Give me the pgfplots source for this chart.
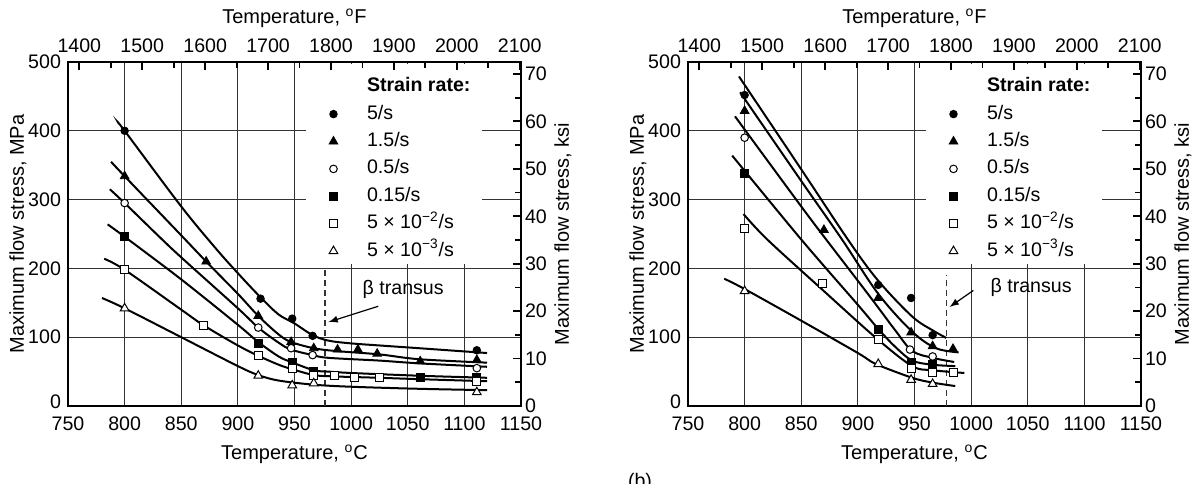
\documentclass[border=0pt]{standalone}
\usepackage{pgfplots}
\pgfplotsset{compat=1.18}
\usepackage{fontspec}
\setmainfont{Liberation Sans}

\newcommand{\lblfont}{\fontsize{9.8}{11}\selectfont}

\pgfplotsset{
  % Celsius / MPa frame with the grid
  flowaxis/.style={
    scale only axis, width=226.5pt, height=172pt,
    xmin=750, xmax=1150, ymin=0, ymax=500,
    xtick={750,800,...,1150}, ytick={0,100,...,500},
    yticklabels={\raisebox{4pt}{0},100,200,300,400,\raisebox{-4pt}{500}},
    major tick length=0pt,
    grid=major, major grid style={black!80, line width=0.5pt},
    axis line style={line width=1.1pt},
    /pgf/number format/assume math mode=true,
    /pgf/number format/1000 sep={},
    tick label style={font=\lblfont},
    xticklabel style={yshift=-2pt},
    label style={font=\lblfont},
    xlabel={Temperature, \textsuperscript{o}C},
    ylabel={Maximum flow stress, MPa},
    every axis x label/.style={at={(rel axis cs:0.5,0)}, yshift=-24pt, anchor=center},
    every axis y label/.style={at={(rel axis cs:0,0.5)}, xshift=-25pt, rotate=90, anchor=center},
    legend cell align=left,
    legend style={draw=none, fill=white, inner sep=0pt, anchor=north west,
      font=\lblfont,
      nodes={text height=7.2pt, text depth=2.2pt, inner sep=1.6pt},
      row sep=1.1pt,
      /tikz/every odd column/.append style={column sep=13pt}},
  },
  % Fahrenheit / ksi scales on top and right
  altaxis/.style={
    scale only axis, width=226.5pt, height=172pt,
    xmin=1382, xmax=2102, ymin=0, ymax=72.519,
    axis x line*=top, axis y line*=right,
    axis line style={line width=1.1pt, -},
    xtick={1400,1500,...,2100}, minor xtick={1450,1550,...,2050},
    ytick={0,10,...,70}, minor ytick={5,15,...,65},
    tick align=inside, major tick length=4pt, minor tick length=3pt,
    tick style={line width=0.9pt, black},
    /pgf/number format/assume math mode=true,
    /pgf/number format/1000 sep={},
    tick label style={font=\lblfont},
    xticklabel style={yshift=1pt},
    yticklabel style={xshift=-1.5pt},
    label style={font=\lblfont},
    xlabel={Temperature, \textsuperscript{o}F},
    ylabel={Maximum flow stress, ksi},
    every axis x label/.style={at={(rel axis cs:0.5,1)}, yshift=22pt, anchor=center},
    every axis y label/.style={at={(rel axis cs:1,0.5)}, xshift=21pt, rotate=90, anchor=center},
  },
  curve/.style={black, line width=1pt, smooth, tension=0.55, forget plot},
  mA/.style={black, only marks, mark=*, mark size=1.9pt},
  mB/.style={black, only marks, mark=triangle*, mark size=2.5pt},
  mC/.style={black, only marks, mark=*, mark size=1.9pt, mark options={fill=white, line width=0.5pt}},
  mD/.style={black, only marks, mark=square*, mark size=2pt},
  mE/.style={black, only marks, mark=square*, mark size=2pt, mark options={fill=white, line width=0.5pt}},
  mF/.style={black, only marks, mark=triangle*, mark size=2.5pt, mark options={fill=white, line width=0.5pt}},
}

\newcommand{\legendrows}{%
  \addlegendimage{empty legend}\addlegendentry{\textbf{Strain rate:}}
  \addlegendimage{mA}\addlegendentry{5/s}
  \addlegendimage{mB}\addlegendentry{1.5/s}
  \addlegendimage{mC}\addlegendentry{0.5/s}
  \addlegendimage{mD}\addlegendentry{0.15/s}
  \addlegendimage{mE}\addlegendentry{5 × 10\textsuperscript{−2}/s}
  \addlegendimage{mF}\addlegendentry{5 × 10\textsuperscript{−3}/s}
}

\begin{document}
\begin{tikzpicture}
\useasboundingbox (0,0) rectangle (597pt,241.5pt);

% ---------------- left panel ----------------
\begin{axis}[flowaxis, at={(34pt,38.5pt)}, anchor=south west,
  legend style={at={(axis cs:969,483)}}]
  \fill[white] (axis cs:960,218) rectangle (axis cs:1116,497);
  \draw[black!80, line width=0.6pt, dash pattern=on 3pt off 2pt] (axis cs:977,0) -- (axis cs:977,200);
  \node[font=\lblfont, anchor=west] at (axis cs:1004,170) {β transus};
  \draw[-latex, line width=0.6pt] (axis cs:1024,145) -- (axis cs:980,122);
  % fitted curves
  \addplot[curve] coordinates {(795,410) (800,400) (850,290) (880,230) (900,193) (920,158) (936,133) (950,120) (966,103) (980,95) (1000,91) (1025,88) (1060,84) (1120,77)};
  \addplot[curve] coordinates {(788,355) (800,334) (850,248) (872,210) (900,163) (918,131) (936,104) (947,93) (967,84) (986,80) (1025,75) (1060,68) (1120,63)};
  \addplot[curve] coordinates {(787,315) (800,295) (830,247) (850,216) (900,142) (918,114) (936,92) (947,82) (966,74) (980,70) (1025,66) (1060,62) (1120,57)};
  \addplot[curve] coordinates {(785,264) (800,246) (850,184) (900,118) (918,93) (936,72) (947,64) (967,52) (980,50) (1000,48) (1060,44) (1120,41)};
  \addplot[curve] coordinates {(782,214) (800,198) (850,140) (870,117) (900,88) (918,73) (936,60) (947,54) (967,45) (985,43) (1025,41) (1060,39) (1120,36)};
  \addplot[curve] coordinates {(780,157) (800,142) (850,100) (900,58) (918,45) (936,37) (967,31) (1000,28) (1060,25) (1120,23)};
  % measured points
  \addplot[mA, forget plot] coordinates {(800,400) (920,156) (948,127) (966,102) (1111,81)};
  \addplot[mB, forget plot] coordinates {(800,334) (872,210) (918,131) (947,93) (967,84) (988,82) (1006,82) (1023,76) (1061,65) (1111,67)};
  \addplot[mC, forget plot] coordinates {(800,295) (918,114) (947,84) (966,74) (1111,55)};
  \addplot[mD, forget plot] coordinates {(800,246) (918,91) (948,64) (967,51) (1061,41) (1111,42)};
  \addplot[mE, forget plot] coordinates {(800,198) (870,117) (918,73) (948,54) (967,45) (985,44) (1003,41) (1025,41) (1111,35)};
  \addplot[mF, forget plot] coordinates {(800,142) (918,44) (948,30) (967,33) (1111,20)};
  \legendrows
\end{axis}
\begin{axis}[altaxis, at={(34pt,38.5pt)}, anchor=south west]
\end{axis}

% ---------------- right panel ----------------
\begin{axis}[flowaxis, at={(344pt,38.5pt)}, anchor=south west,
  legend style={at={(axis cs:969,483)}}]
  \fill[white] (axis cs:960,218) rectangle (axis cs:1116,497);
  \draw[black!80, line width=0.6pt, dash pattern=on 3pt off 2pt] (axis cs:978.5,0) -- (axis cs:978.5,190);
  \node[font=\lblfont, anchor=west] at (axis cs:1011,172) {β transus};
  \draw[-latex, line width=0.6pt] (axis cs:1002,168) -- (axis cs:981,144);
  % fitted curves
  \addplot[curve] coordinates {(795,479) (850,344) (892,240) (918,182) (948,130) (966,110) (978,99)};
  \addplot[curve] coordinates {(796,456) (850,327) (886,242) (918,163) (948,108) (969,84) (989,78)};
  \addplot[curve] coordinates {(791.5,421) (850,290) (872,242) (900,182) (918,143) (933,110) (948,80) (966,70) (985,64)};
  \addplot[curve] coordinates {(789,364) (850,242) (900,147) (918,112) (933,86) (948,66) (966,60) (986,58)};
  \addplot[curve] coordinates {(799,279) (820,242) (868,170) (916,99) (948,58) (966,52) (994,48)};
  \addplot[curve] coordinates {(782,185) (800,170) (850,124) (900,77) (916,61) (948,41) (966,34) (986,29)};
  % measured points
  \addplot[mA, forget plot] coordinates {(800,452) (918,176) (947,157) (966,103)};
  \addplot[mB, forget plot] coordinates {(800,429) (870,256) (918,157) (947,107) (966,87) (984,83)};
  \addplot[mC, forget plot] coordinates {(800,390) (946,82) (966,72)};
  \addplot[mD, forget plot] coordinates {(800,338) (918,112) (947,64) (966,60)};
  \addplot[mE, forget plot] coordinates {(800,258) (869,178) (918,96) (947,54) (966,48) (984,48)};
  \addplot[mF, forget plot] coordinates {(800,167) (918,61) (947,38) (966,32)};
  \legendrows
\end{axis}
\begin{axis}[altaxis, at={(344pt,38.5pt)}, anchor=south west]
\end{axis}

\node[font=\lblfont, anchor=north, inner sep=0pt] at (320pt,5pt) {(b)};
\end{tikzpicture}
\end{document}
